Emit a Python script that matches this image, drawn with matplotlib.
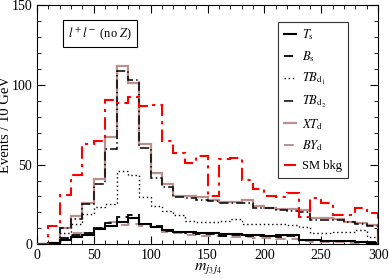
import numpy as np
import matplotlib
matplotlib.use("Agg")
from matplotlib import pyplot as plt
from matplotlib.lines import Line2D

plt.rcParams['font.family'] = ['Liberation Serif', 'DejaVu Serif']
plt.rcParams['mathtext.fontset'] = 'stix'

# bin edges (GeV)
edges = np.arange(0, 310, 10)

T_s = [0, 0.6, 2.7, 4.8, 5.8, 9.4, 11.7, 14.2, 16.3, 12.7,
       11, 9, 8, 7.5, 7, 7, 6.5, 6.5, 6, 6,
       5.5, 6, 6, 3, 2.5, 2, 2, 2, 1.5, 1]
B_s = [0, 0.5, 3.8, 5.8, 6.9, 10, 13.5, 17.3, 18.3, 13,
       11.5, 8.5, 8, 7, 6.5, 6.5, 5.5, 6, 5.5, 5,
       5, 4.5, 5, 3, 2.5, 2, 2, 2, 1.5, 1.5]
TB_d1 = [0, 0.5, 7, 13, 19, 23.5, 25.5, 46, 43.5, 29.5,
         24, 21, 18.3, 14.5, 14.2, 14.2, 14.5, 16, 13, 12.5,
         13, 12.5, 12, 11, 7, 7, 8, 8, 9, 4.5]
TB_d2 = [0, 1, 10, 16, 25, 38, 60, 108.5, 103, 60.5,
         41.5, 36, 29.5, 29, 28, 27, 26, 26, 26, 23,
         22.5, 21.5, 21, 20.5, 15.5, 15.5, 15, 14, 12.5, 11.7]
XT_d = [0, 1, 10, 18, 26, 41, 67, 112, 101, 63,
        44.5, 38, 30.5, 30, 29.5, 27.7, 26.7, 26.7, 27.7, 24,
        23, 22, 22, 21.5, 16.3, 16.3, 15.6, 14.2, 13.1, 12.1]
BY_d = [0, 0.5, 2.7, 6.9, 7.3, 10, 13.8, 12, 13, 11.5,
        11, 8, 7, 6, 5.5, 5.5, 5, 4.5, 4.5, 4,
        4, 3.5, 3.5, 2, 1.5, 1.5, 1.2, 1, 1, 0.8]
SM_bkg = [0, 11.5, 31, 43.5, 63, 65, 90.6, 88.5, 92.2, 86.5,
          87.5, 65, 57, 51, 55.5, 30, 53.5, 54, 40.5, 34.5,
          30.5, 29.4, 31.9, 17.3, 29.2, 26, 18.3, 18.3, 22.9, 19.8]

labels = [r'$T_{\rm s}$', r'$B_{\rm s}$', r'$TB_{{\rm d}_1}$', r'$TB_{{\rm d}_2}$',
          r'$XT_{\rm d}$', r'$BY_{\rm d}$', 'SM bkg']

fig = plt.figure(figsize=(3.89, 2.78), dpi=100)
ax = fig.add_axes([0.095, 0.121, 0.877, 0.861])

rb = '#bc8f8f'
styles = [
    (T_s, 'black', 1.5, '-'),
    (B_s, 'black', 1.3, (0, (5, 3))),
    (TB_d1, 'black', 1.0, (0, (1, 2))),
    (TB_d2, 'black', 1.1, (0, (6, 2, 1, 2))),
    (XT_d, rb, 1.6, '-'),
    (BY_d, rb, 1.4, (0, (5, 3))),
    (SM_bkg, 'red', 1.5, (0, (6, 2.5, 1.5, 2.5))),
]
zorders = [3, 3, 3, 3, 2, 2, 4]
handles = []
for (vals, c, lw, ls), z in zip(styles, zorders):
    ax.stairs(vals, edges, color=c, lw=lw, ls=ls, zorder=z)
    handles.append(Line2D([], [], color=c, lw=lw, ls=ls))

ax.set_xlim(0, 300)
ax.set_ylim(0, 150)
ax.set_xticks([0, 50, 100, 150, 200, 250, 300])
ax.set_yticks([0, 50, 100, 150])
ax.set_xticks(np.arange(0, 301, 10), minor=True)
ax.set_yticks(np.arange(0, 151, 10), minor=True)
ax.tick_params(which='both', direction='in', top=True, right=True, labelsize=10)
ax.tick_params(which='major', length=6)
ax.tick_params(which='minor', length=3)
ax.tick_params(axis='x', pad=3)

ax.set_ylabel('Events / 10 GeV', fontsize=10.5)
ax.yaxis.set_label_coords(-0.072, 0.5)
ax.set_xlabel(r'$m_{j_3 j_4}$', fontsize=11.5, labelpad=-1)

ax.text(0.09, 0.867, r'$l^+l^-$ (no $Z$)', transform=ax.transAxes, fontsize=9,
        bbox=dict(boxstyle='square,pad=0.4', fc='white', ec='black', lw=0.8))

leg = ax.legend(handles, labels, loc='upper right',
                bbox_to_anchor=(0.912, 0.929), fontsize=9, frameon=True, fancybox=False,
                edgecolor='black', handlelength=1.0, handletextpad=0.5, labelspacing=0.55,
                borderpad=0.45, borderaxespad=0)
leg.get_frame().set_linewidth(0.8)

fig.savefig('out.png', dpi=100)
